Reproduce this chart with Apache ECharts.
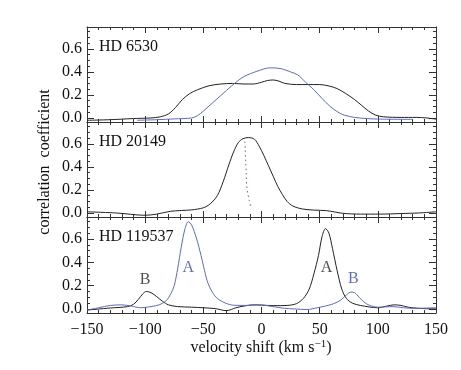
<!DOCTYPE html>
<html>
<head>
<meta charset="utf-8">
<script src="https://cdn.jsdelivr.net/npm/echarts@6/dist/echarts.min.js"></script>
<style>
  html, body { margin: 0; padding: 0; background: #fff; }
  #main { width: 461px; height: 370px; }
</style>
</head>
<body>
<div id="main"></div>
<script>
// panel names
var panelNames = ['HD 6530', 'HD 20149', 'HD 119537'];

// tick values
var xMin = -150, xMax = 150, xStep = 50;
var yMajorTicks = [0, 0.2, 0.4, 0.6];
var yMinorTicks = [0, 0.05, 0.1, 0.15, 0.2, 0.25, 0.3, 0.35, 0.4, 0.45, 0.5, 0.55, 0.6, 0.65, 0.7, 0.75];

// HD 6530 [velocity, coefficient]
var hd6530Black = [[-150,-0.02],[-130,-0.015],[-110,-0.005],[-95,0.0],[-87,0.01],[-80,0.035],[-74,0.09],[-68,0.16],[-62,0.21],[-55,0.245],[-45,0.28],[-35,0.295],[-25,0.3],[-15,0.295],[-7,0.295],[0,0.31],[5,0.325],[10,0.33],[15,0.32],[20,0.3],[30,0.29],[40,0.29],[50,0.29],[58,0.278],[65,0.255],[72,0.215],[80,0.16],[86,0.11],[92,0.06],[98,0.025],[105,0.01],[120,0.005],[133,0.005],[142,0.0],[150,-0.01]];
var hd6530Blue = [[-107,-0.02],[-90,-0.015],[-75,-0.008],[-60,0.0],[-55,0.02],[-50,0.06],[-40,0.15],[-30,0.24],[-22,0.31],[-15,0.36],[-4,0.405],[7,0.435],[16,0.43],[25,0.4],[31,0.375],[38,0.31],[45,0.245],[52,0.17],[59,0.1],[65,0.055],[71,0.025],[80,0.005],[90,-0.005],[102,-0.01],[130,-0.012]];

// HD 20149
var hd20149Black = [[-150,0.01],[-125,0.0],[-100,-0.02],[-90,-0.01],[-78,0.015],[-60,0.027],[-50,0.045],[-44,0.08],[-38,0.15],[-33,0.27],[-28,0.42],[-24,0.53],[-20,0.61],[-16,0.645],[-11,0.655],[-6,0.64],[-2,0.58],[2,0.5],[6,0.41],[10,0.32],[14,0.23],[18,0.16],[22,0.1],[27,0.06],[35,0.035],[45,0.025],[56,0.02],[70,-0.003],[85,-0.01],[102,-0.01],[120,-0.005],[135,0.0],[150,0.01]];
var hd20149Bisector = [[-14.3,0.62],[-14,0.55],[-13.6,0.45],[-13.2,0.35],[-12.8,0.25],[-11.8,0.17],[-10.5,0.11],[-9.2,0.05]];

// HD 119537
var hd119537Black = [[-150,-0.01],[-130,0.008],[-115,0.02],[-110,0.04],[-106,0.08],[-102,0.13],[-99,0.15],[-95,0.14],[-90,0.105],[-85,0.065],[-80,0.035],[-72,0.02],[-60,0.015],[-50,0.01],[-40,0.003],[-30,-0.015],[-22,0.01],[-15,0.025],[-7,0.035],[0,0.033],[10,0.028],[22,0.03],[30,0.045],[36,0.09],[41,0.17],[45,0.3],[49,0.46],[52,0.62],[55,0.69],[58,0.65],[61,0.52],[65,0.33],[69,0.17],[73,0.09],[78,0.05],[85,0.03],[100,0.01],[108,0.025],[114,0.035],[120,0.03],[126,0.015],[135,0.005],[150,0.0]];
var hd119537Blue = [[-150,-0.01],[-140,0.01],[-130,0.03],[-120,0.035],[-112,0.025],[-104,0.01],[-95,0.02],[-88,0.035],[-82,0.07],[-78,0.13],[-75,0.2],[-72,0.35],[-69,0.53],[-66,0.68],[-63,0.75],[-60,0.72],[-56,0.61],[-52,0.46],[-49,0.33],[-46,0.22],[-42,0.14],[-38,0.09],[-31,0.05],[-24,0.032],[-13,0.03],[-2,0.035],[10,0.02],[20,0.005],[28,0.0],[39,-0.005],[48,0.01],[55,0.025],[62,0.045],[68,0.075],[73,0.12],[77,0.145],[80,0.14],[84,0.1],[88,0.06],[93,0.03],[100,0.015],[113,0.02],[122,0.01],[131,0.005],[150,0.01]];

// component letters in bottom panel [velocity, coefficient, text]
var blackLabels = [[-100, 0.25, 'B'], [56, 0.35, 'A']];
var blueLabels = [[-63, 0.35, 'A'], [79, 0.26, 'B']];

var BLACK = '#222';
var BLUE = '#5a6bc8';
var BLUE_TEXT = '#3a4ca8';
var FONT = 'Liberation Serif';

const chart = echarts.init(document.getElementById('main'));

var grids = [], xAxes = [], yAxes = [], titles = [];
var gridTops = [27, 122, 217];
var gridHeights = [95, 95, 96];

for (var i = 0; i < 3; i++) {
    grids.push({ left: 87, right: 25, top: gridTops[i], height: gridHeights[i], containLabel: false });
    ['bottom', 'top'].forEach(function (pos) {
        xAxes.push({
            gridIndex: i, type: 'value', position: pos,
            min: xMin, max: xMax, interval: xStep,
            axisLine: { show: true, onZero: false, lineStyle: { color: '#333', width: 1 } },
            axisTick: { show: true, inside: true, length: 6, lineStyle: { color: '#333' } },
            minorTick: { show: true, splitNumber: 5, length: 3, lineStyle: { color: '#333' } },
            axisLabel: {
                show: (i === 2 && pos === 'bottom'), margin: 9,
                fontFamily: FONT, fontSize: 16, color: '#111',
                formatter: function (v) { return v < 0 ? '\u2212' + Math.abs(v) : String(v); }
            },
            splitLine: { show: false }
        });
    });
    ['left', 'right'].forEach(function (pos) {
        yAxes.push({
            gridIndex: i, type: 'value', position: pos,
            min: -0.035, max: 0.79,
            axisLine: { show: true, onZero: false, lineStyle: { color: '#333', width: 1 } },
            axisTick: { show: true, inside: true, length: 7, customValues: yMajorTicks, lineStyle: { color: '#333' } },
            axisLabel: {
                show: pos === 'left', customValues: yMajorTicks, margin: 5,
                fontFamily: FONT, fontSize: 16, color: '#111',
                formatter: function (v) { return v.toFixed(1); }
            },
            splitLine: { show: false }
        });
        yAxes.push({
            gridIndex: i, type: 'value', position: pos,
            min: -0.035, max: 0.79,
            axisLine: { show: false, onZero: false },
            axisTick: { show: true, inside: true, length: 3, customValues: yMinorTicks, lineStyle: { color: '#333' } },
            axisLabel: { show: false },
            splitLine: { show: false }
        });
    });
    titles.push({
        text: panelNames[i], left: 94, top: gridTops[i] + 7,
        textStyle: { fontFamily: FONT, fontSize: 16, fontWeight: 'normal', color: '#111' }
    });
}

function line(panel, data, color, dotted) {
    return {
        type: 'line', xAxisIndex: panel * 2, yAxisIndex: panel * 4,
        data: data, showSymbol: false, symbol: 'none', smooth: 0.3,
        lineStyle: { color: color, width: 1, type: dotted ? [1.5, 3] : 'solid' },
        silent: true, animation: false
    };
}

function letters(data, color) {
    return {
        type: 'scatter', xAxisIndex: 4, yAxisIndex: 8,
        data: data, symbolSize: 0, silent: true, animation: false,
        label: {
            show: true, position: 'inside', color: color,
            fontFamily: FONT, fontSize: 16,
            formatter: function (p) { return p.data[2]; }
        }
    };
}

chart.setOption({
    backgroundColor: '#fff',
    animation: false,
    title: titles,
    grid: grids,
    xAxis: xAxes,
    yAxis: yAxes,
    graphic: [
        {
            type: 'text', x: 45, y: 162, rotation: Math.PI / 2,
            style: { text: 'correlation  coefficient', font: '16px "Liberation Serif"', fill: '#111', align: 'center', verticalAlign: 'middle' }
        },
        {
            type: 'text', x: 261, y: 348,
            style: {
                text: 'velocity shift (km s{sup|\u22121})',
                font: '16px "Liberation Serif"', fill: '#111', align: 'center', verticalAlign: 'middle',
                rich: { sup: { fontSize: 11, fontFamily: FONT, fill: '#111', verticalAlign: 'top', padding: [0, 0, 8, 0] } }
            }
        }
    ],
    series: [
        line(0, hd6530Black, BLACK),
        line(0, hd6530Blue, BLUE),
        line(1, hd20149Black, BLACK),
        line(1, hd20149Bisector, BLUE, true),
        line(2, hd119537Black, BLACK),
        line(2, hd119537Blue, BLUE),
        letters(blackLabels, BLACK),
        letters(blueLabels, BLUE_TEXT)
    ]
});
</script>
</body>
</html>
